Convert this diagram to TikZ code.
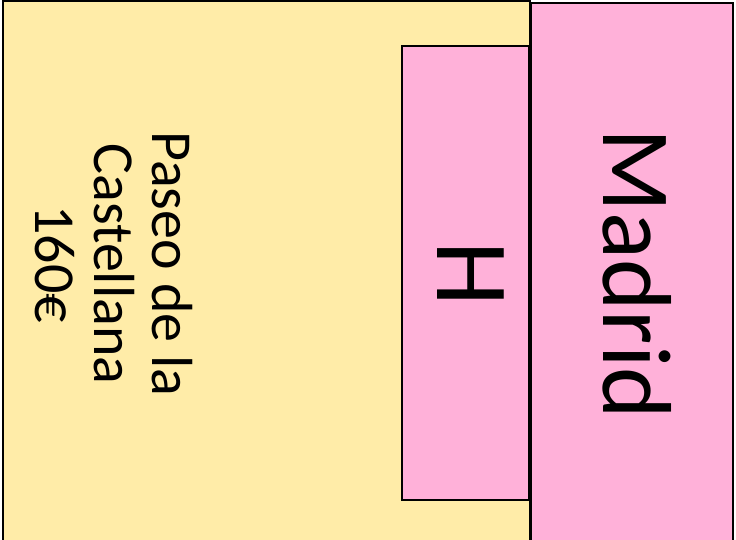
\documentclass[tikz,border=0pt]{standalone}
\usepackage{fontspec}
\setmainfont{Carlito}
\usepackage{tikz}
\usetikzlibrary{positioning}
\definecolor{cardyellow}{RGB}{255,236,168}
\definecolor{cardpink}{RGB}{255,177,217}

\begin{document}
\begin{tikzpicture}[x=1pt, y=1pt,
    card/.style={draw=black, line width=2pt},
    label/.style={rotate=-90, inner sep=0pt, text=black}]
                        \clip (0, 0) rectangle (736, 540);
                        \filldraw[card, fill=cardyellow] (3, -10) rectangle (530, 538.5);
                        \filldraw[card, fill=cardpink] (531, -10) rectangle (733, 536.5);
                        \filldraw[card, fill=cardpink] (402, 40) rectangle (529, 494);
                        \node[label, align=center, font=\fontsize{58}{58.5}\selectfont] (street) at (114, 276) {Paseo de la\\Castellana\\160€};
                        \node[label, anchor=base, font=\fontsize{104}{110}\selectfont] (hotel) at (437, 266) {H};
                        \node[label, anchor=base, font=\fontsize{98}{110}\selectfont] (city) at (603, 266) {Madrid};
                    \end{tikzpicture}
\end{document}
